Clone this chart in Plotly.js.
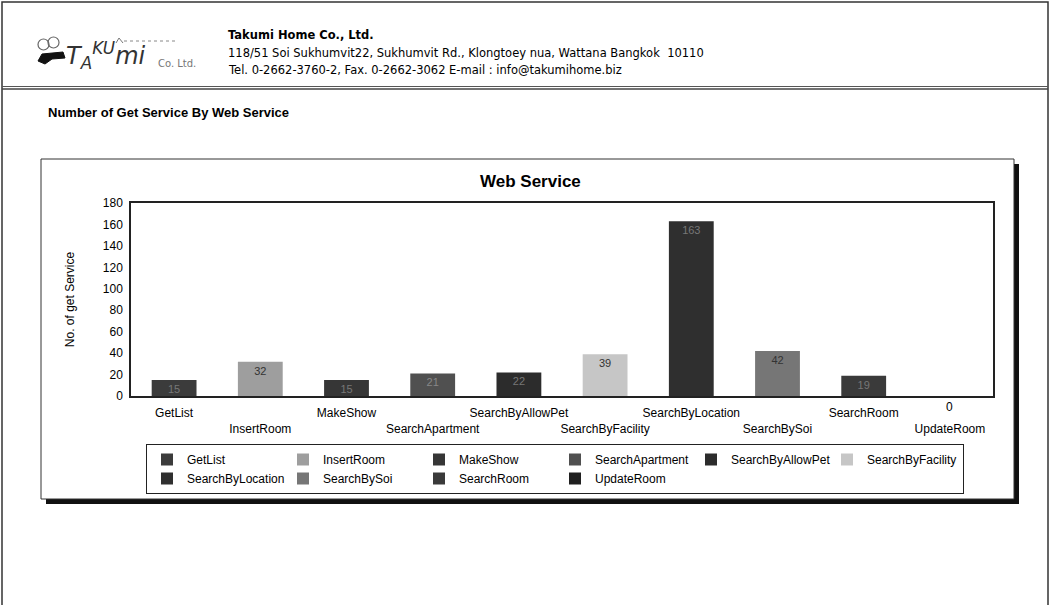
<!DOCTYPE html>
<html>
<head>
<meta charset="utf-8">
<script src="https://cdn.plot.ly/plotly-3.0.1.min.js"></script>
<style>
  html, body { margin: 0; padding: 0; background: #ffffff; }
  #chart { width: 1050px; height: 605px; }
</style>
</head>
<body>
<div id="chart"></div>
<script>
// ---- data ----
const categories = ['GetList', 'InsertRoom', 'MakeShow', 'SearchApartment', 'SearchByAllowPet',
                    'SearchByFacility', 'SearchByLocation', 'SearchBySoi', 'SearchRoom', 'UpdateRoom'];
const values = [15, 32, 15, 21, 22, 39, 163, 42, 19, 0];
const yTickVals = [0, 20, 40, 60, 80, 100, 120, 140, 160, 180];
const chartTitle = 'Web Service';
const yTitle = 'No. of get Service';
const reportTitle = 'Number of Get Service By Web Service';
const companyName = 'Takumi Home Co., Ltd.';
const companyAddress = '118/51 Soi Sukhumvit22, Sukhumvit Rd., Klongtoey nua, Wattana Bangkok  10110';
const companyContact = 'Tel. 0-2662-3760-2, Fax. 0-2662-3062 E-mail : info@takumihome.biz';

// ---- styles ----
const barColors = ['#3b3b3b', '#9e9e9e', '#363636', '#505050', '#2c2c2c',
                   '#c6c6c6', '#2f2f2f', '#767676', '#3a3a3a', '#1f1f1f'];
const labelColors = ['#777', '#333', '#777', '#888', '#777', '#333', '#777', '#333', '#777', '#333'];
const FONT = 'Arial, "Liberation Sans", sans-serif';
const HFONT = '"DejaVu Sans", Verdana, sans-serif';

// plot area geometry (pixels)
const L = 131, R = 993, T = 203, B = 396, W = 1050, H = 605;
const px = v => (v - L) / (R - L);
const py = v => (B - v) / (B - T);

const traces = categories.map((c, i) => ({
  type: 'bar',
  name: c,
  x: [c],
  y: [values[i]],
  width: 0.52,
  marker: { color: barColors[i], line: { width: 0 } },
  text: [String(values[i])],
  textposition: values[i] > 0 ? 'inside' : 'none',
  insidetextanchor: 'end',
  textangle: 0,
  constraintext: 'none',
  textfont: { family: FONT, size: 11, color: labelColors[i] },
  hoverinfo: 'x+y'
}));

const tickText = categories.map((c, i) => (i % 2 === 1 ? '<br>' + c : c));

const shapes = [
  // page frame
  { type: 'rect', xref: 'paper', yref: 'paper', x0: px(2), x1: px(1048), y0: py(2), y1: py(620),
    line: { color: '#333', width: 1.5 }, layer: 'below' },
  // header separator
  { type: 'line', xref: 'paper', yref: 'paper', x0: px(2), x1: px(1048), y0: py(86.5), y1: py(86.5),
    line: { color: '#555', width: 1 }, layer: 'below' },
  { type: 'line', xref: 'paper', yref: 'paper', x0: px(2), x1: px(1048), y0: py(89), y1: py(89),
    line: { color: '#444', width: 1.5 }, layer: 'below' },
  // chart box shadow
  { type: 'rect', xref: 'paper', yref: 'paper', x0: px(46), x1: px(1019), y0: py(164), y1: py(504),
    fillcolor: '#111', line: { width: 0 }, layer: 'below' },
  // chart box
  { type: 'rect', xref: 'paper', yref: 'paper', x0: px(41), x1: px(1014), y0: py(159), y1: py(499),
    fillcolor: '#fff', line: { color: '#333', width: 1 }, layer: 'below' },
  // logo decorations
  { type: 'circle', xref: 'paper', yref: 'paper', x0: px(38), x1: px(49), y0: py(39), y1: py(50),
    line: { color: '#666', width: 1.2 }, layer: 'below' },
  { type: 'circle', xref: 'paper', yref: 'paper', x0: px(48), x1: px(59), y0: py(37), y1: py(48),
    line: { color: '#666', width: 1.2 }, layer: 'below' },
  { type: 'path', xref: 'paper', yref: 'paper',
    path: `M ${px(38)} ${py(61)} L ${px(42)} ${py(54)} L ${px(63)} ${py(52)} L ${px(65)} ${py(58)} L ${px(52)} ${py(59)} L ${px(45)} ${py(64)} Z`,
    fillcolor: '#111', line: { color: '#111', width: 1 }, layer: 'below' },
  { type: 'line', xref: 'paper', yref: 'paper', x0: px(124), x1: px(176), y0: py(41), y1: py(41),
    line: { color: '#888', width: 1, dash: 'dot' }, layer: 'below' },
  { type: 'path', xref: 'paper', yref: 'paper',
    path: `M ${px(116)} ${py(43)} L ${px(119)} ${py(38)} L ${px(123)} ${py(43)}`,
    line: { color: '#777', width: 1 }, layer: 'below' }
];

const annotations = [
  { text: '<b>' + chartTitle + '</b>', xref: 'paper', yref: 'paper', x: px(530), y: py(181),
    xanchor: 'center', yanchor: 'middle',
    showarrow: false, font: { family: FONT, size: 17, color: '#000' } },
  { text: '<b>' + reportTitle + '</b>', xref: 'paper', yref: 'paper', x: px(46), y: py(113),
    xanchor: 'left', yanchor: 'middle', showarrow: false,
    font: { family: '"Liberation Sans Narrow", Arial, sans-serif', size: 13, color: '#000' } },
  { text: '<b>' + companyName + '</b>', xref: 'paper', yref: 'paper', x: px(226), y: py(35),
    xanchor: 'left', yanchor: 'middle', showarrow: false, font: { family: HFONT, size: 11.5, color: '#000' } },
  { text: companyAddress, xref: 'paper', yref: 'paper', x: px(226), y: py(53),
    xanchor: 'left', yanchor: 'middle', showarrow: false, font: { family: HFONT, size: 11.5, color: '#000' } },
  { text: companyContact, xref: 'paper', yref: 'paper', x: px(226), y: py(70),
    xanchor: 'left', yanchor: 'middle', showarrow: false, font: { family: HFONT, size: 11.5, color: '#000' } },
  // logo text
  { text: '<i>T<sub>A</sub><sup>KU</sup>mi</i>', xref: 'paper', yref: 'paper', x: px(64), y: py(55),
    xanchor: 'left', yanchor: 'middle', showarrow: false, font: { family: '"DejaVu Sans", sans-serif', size: 24, color: '#333' } },
  { text: 'Co. Ltd.', xref: 'paper', yref: 'paper', x: px(156), y: py(63),
    xanchor: 'left', yanchor: 'middle', showarrow: false, font: { family: '"DejaVu Sans", sans-serif', size: 10, color: '#777' } },
  // zero-value label below the axis
  { text: String(values[9]), x: categories[9], y: values[9], xref: 'x', yref: 'y',
    yshift: -11, showarrow: false, font: { family: FONT, size: 12, color: '#000' } }
];

const layout = {
  width: W, height: H,
  margin: { l: L, r: W - R, t: T, b: H - B, pad: 0 },
  paper_bgcolor: '#ffffff',
  plot_bgcolor: '#ffffff',
  barmode: 'overlay',
  showlegend: true,
  font: { family: FONT, size: 12, color: '#000' },
  xaxis: {
    type: 'category',
    tickvals: categories,
    ticktext: tickText,
    tickangle: 0,
    showline: true, mirror: true, linecolor: '#222', linewidth: 1.5,
    showgrid: false, zeroline: false, ticks: '',
    ticklabelstandoff: 5,
    tickfont: { family: FONT, size: 12, color: '#000' },
    range: [-0.5, categories.length - 0.5],
    fixedrange: true
  },
  yaxis: {
    range: [0, 180],
    tickvals: yTickVals,
    ticks: '',
    showline: true, mirror: true, linecolor: '#222', linewidth: 1.5,
    showgrid: false, zeroline: false,
    tickfont: { family: FONT, size: 12, color: '#000' },
    ticklabelstandoff: 4,
    title: { text: yTitle, standoff: 26, font: { family: FONT, size: 12, color: '#000' } },
    fixedrange: true
  },
  legend: {
    orientation: 'h',
    x: px(146), xanchor: 'left',
    y: py(444), yanchor: 'top',
    bordercolor: '#222', borderwidth: 1,
    bgcolor: '#fff',
    entrywidth: 91, entrywidthmode: 'pixels',
    itemwidth: 30,
    tracegroupgap: 0,
    font: { family: FONT, size: 12, color: '#000' },
    traceorder: 'normal'
  },
  shapes: shapes,
  annotations: annotations
};

Plotly.newPlot('chart', traces, layout, { displayModeBar: false, responsive: false });
</script>
</body>
</html>
